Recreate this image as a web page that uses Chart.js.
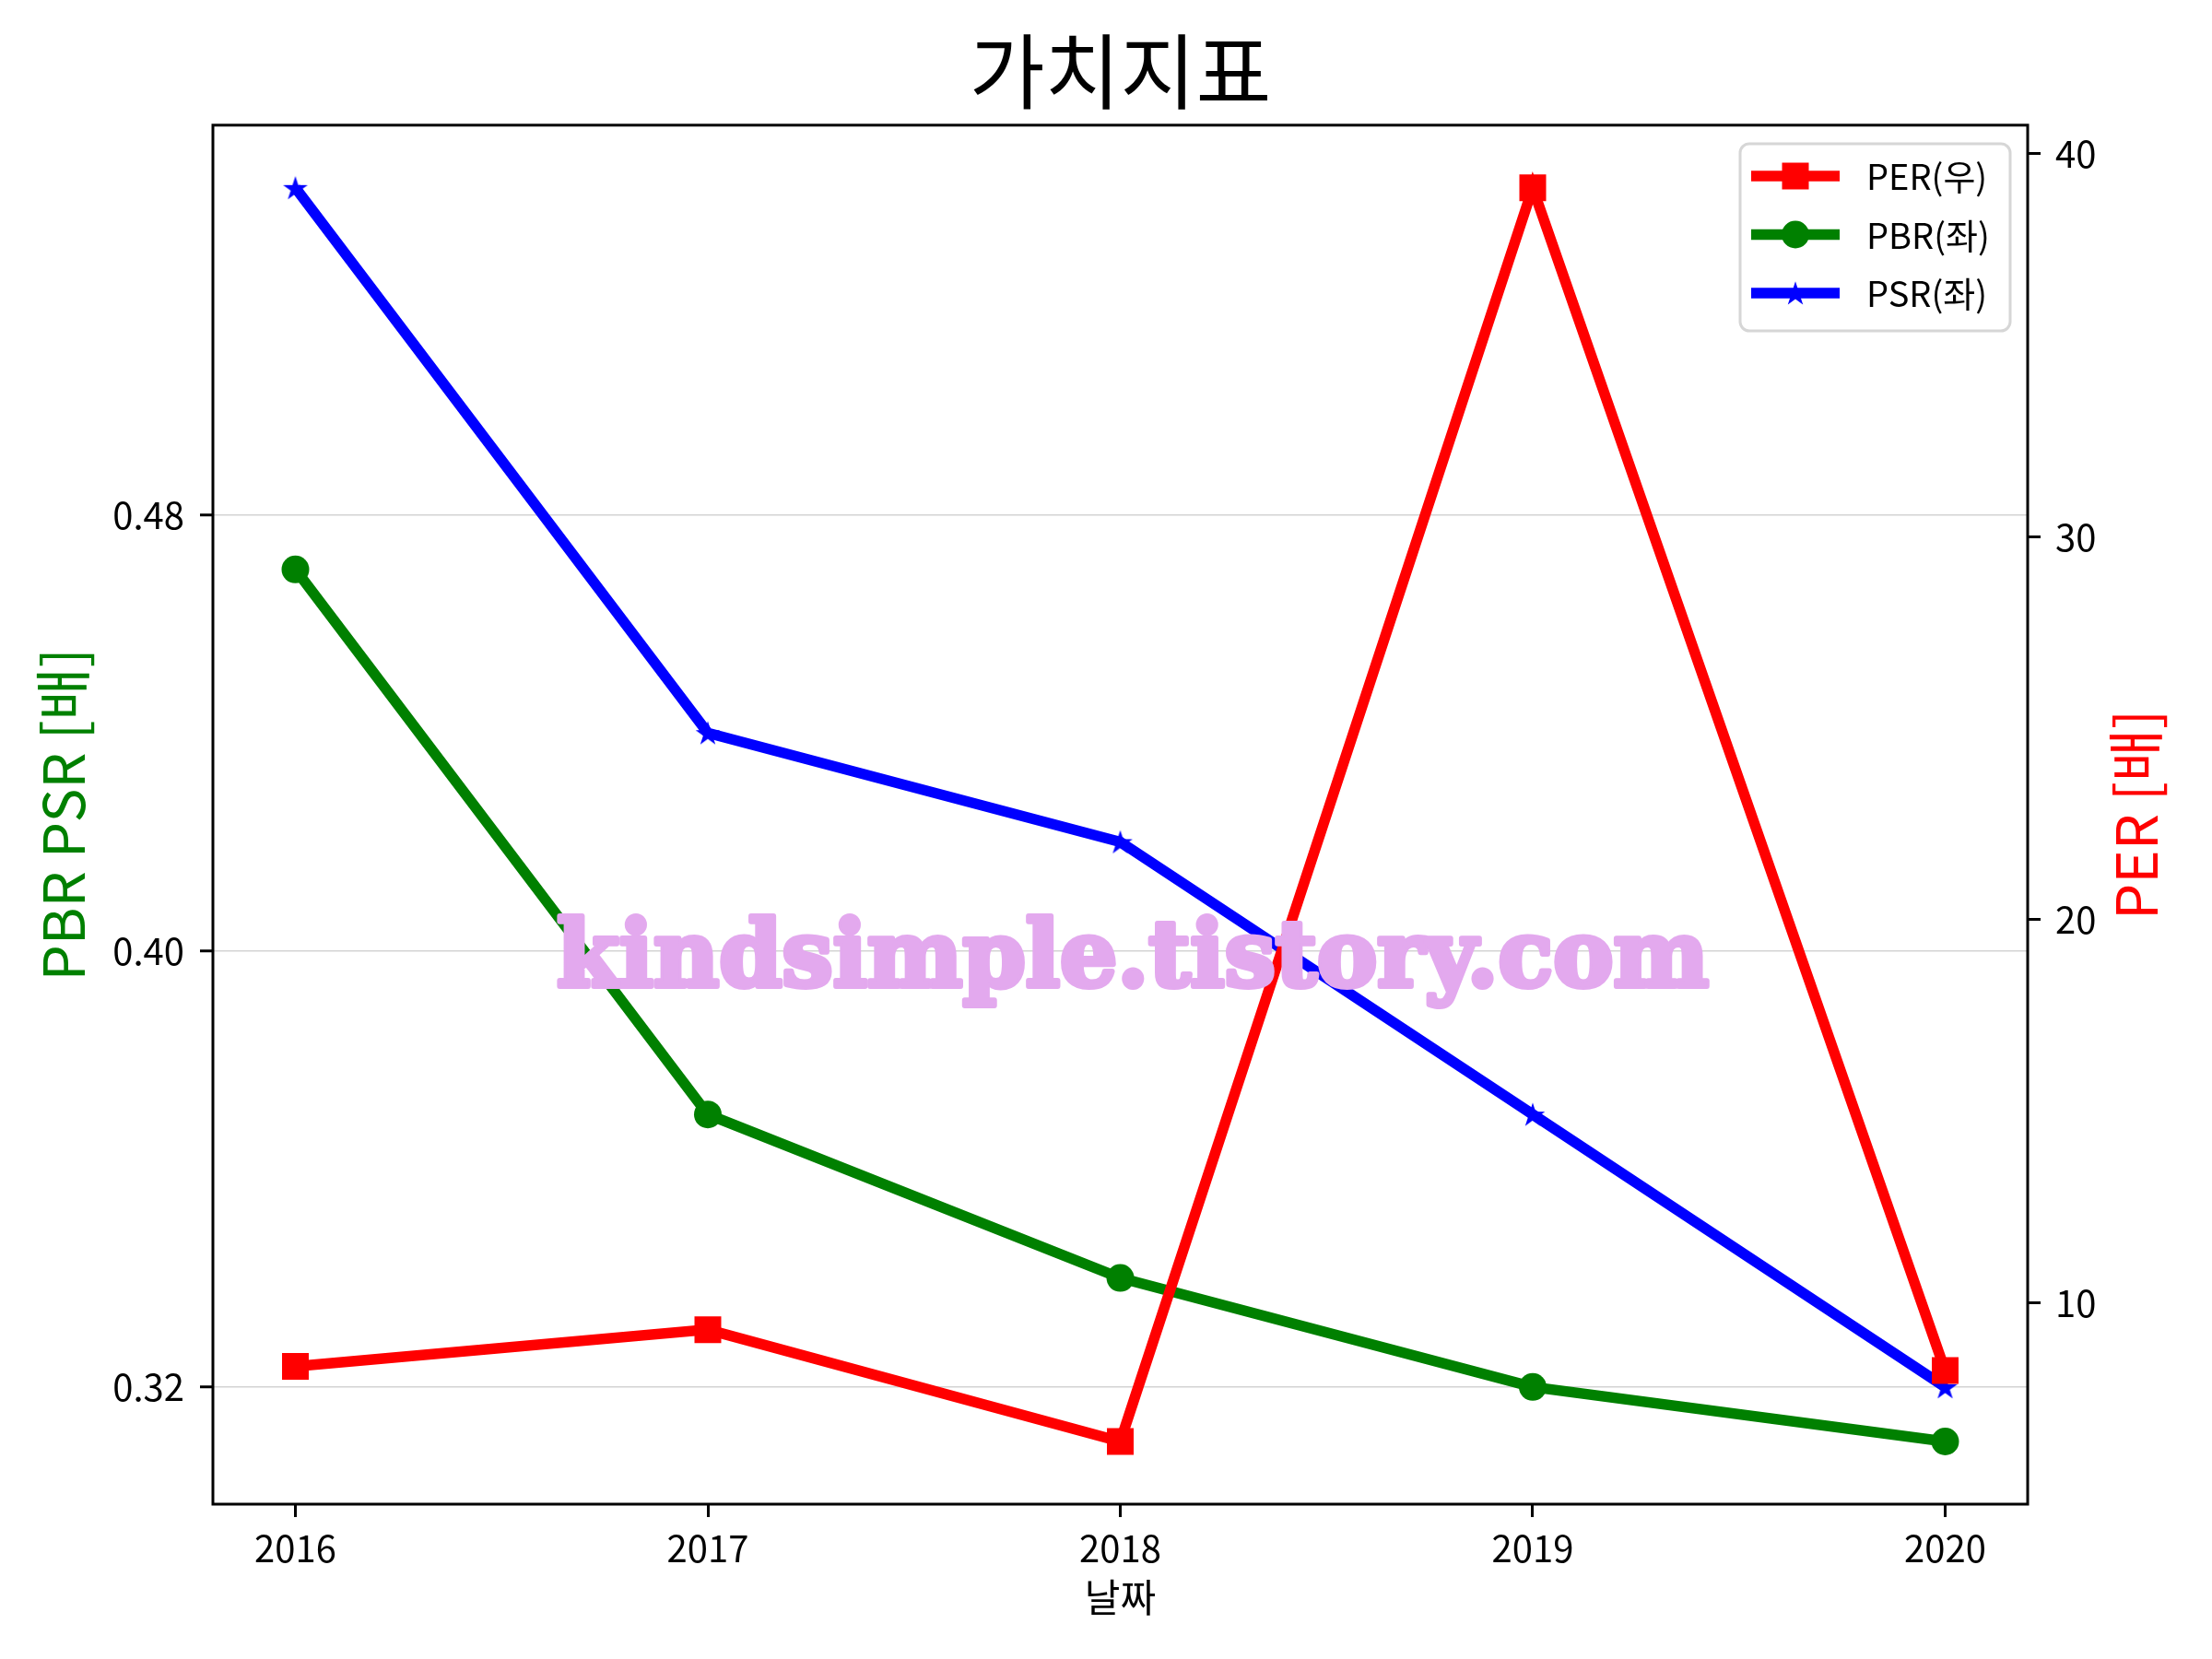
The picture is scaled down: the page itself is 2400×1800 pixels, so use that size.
<!DOCTYPE html>
<html><head><meta charset="utf-8">
<script src="https://cdn.jsdelivr.net/npm/chart.js@4/dist/chart.umd.min.js"></script>
<style>html,body{margin:0;padding:0;background:#fff;}</style>
</head><body>
<canvas id="c" width="2400" height="1800"></canvas>
<script>
// ---- data ----
const years = [2016, 2017, 2018, 2019, 2020];
const xTickLabels = ['2016', '2017', '2018', '2019', '2020'];
const perValues = [8.34, 9.30, 6.38, 39.11, 8.23];
const pbrValues = [0.47, 0.37, 0.34, 0.32, 0.31];
const psrValues = [0.54, 0.44, 0.42, 0.37, 0.32];
const leftTicks = [0.32, 0.40, 0.48];
const leftTickLabels = ['0.32', '0.40', '0.48'];
const rightTicks = [10, 20, 30, 40];
const rightTickLabels = ['10', '20', '30', '40'];
const seriesLabels = ['PER(우)', 'PBR(좌)', 'PSR(좌)'];
const titleText = '가치지표';
const xTitle = '날짜';
const leftTitle = 'PBR PSR [배]';
const rightTitle = 'PER [배]';
const watermarkText = 'kindsimple.tistory.com';

// ---- helpers ----
const FONT = '"Noto Sans CJK KR", "Noto Sans", sans-serif';
Chart.defaults.font.family = FONT;
function padRange(vals, frac) {
  const mn = Math.min(...vals), mx = Math.max(...vals), d = (mx - mn) * frac;
  return [mn - d, mx + d];
}
const xRange = padRange(years, 0.05);
const leftRange = padRange(pbrValues.concat(psrValues), 0.05);
const rightRange = padRange(perValues, 0.05);
const pts = vals => vals.map((v, i) => ({x: years[i], y: v}));

function starCanvas(R, color) {
  const s = Math.ceil(2 * R + 2);
  const c = document.createElement('canvas');
  c.width = s; c.height = s;
  const g = c.getContext('2d');
  g.fillStyle = color;
  g.beginPath();
  for (let i = 0; i < 10; i++) {
    const a = -Math.PI / 2 + i * Math.PI / 5;
    const r = (i % 2) ? R * 0.382 : R;
    const px = s / 2 + r * Math.cos(a), py = s / 2 + R * 0.09 + r * Math.sin(a);
    if (i === 0) g.moveTo(px, py); else g.lineTo(px, py);
  }
  g.closePath();
  g.fill();
  return c;
}
const blueStar = starCanvas(14, '#0000ff');

function drawMarker(ctx, style, radius, color, x, y) {
  ctx.save();
  ctx.fillStyle = color;
  if (style === 'rect') {
    const h = radius * Math.SQRT1_2;
    ctx.fillRect(x - h, y - h, 2 * h, 2 * h);
  } else if (style === 'circle') {
    ctx.beginPath(); ctx.arc(x, y, radius, 0, Math.PI * 2); ctx.fill();
  } else if (style instanceof HTMLCanvasElement) {
    ctx.drawImage(style, x - style.width / 2, y - style.height / 2);
  }
  ctx.restore();
}

const decor = {
  id: 'decor',
  afterDatasetsDraw(chart) {
    const {ctx, chartArea: a} = chart;
    ctx.save();
    ctx.strokeStyle = '#000';
    ctx.lineWidth = 3;
    ctx.strokeRect(a.left, a.top, a.right - a.left, a.bottom - a.top);
    ctx.restore();
  },
  afterDraw(chart) {
    const ctx = chart.ctx;
    // watermark
    ctx.save();
    ctx.font = 'bold 100px "DejaVu Serif", serif';
    const w = ctx.measureText(watermarkText).width;
    ctx.translate(1229, 1070);
    ctx.scale(1250 / w, 1);
    ctx.fillStyle = '#e3a9ee';
    ctx.strokeStyle = '#e3a9ee';
    ctx.lineWidth = 6;
    ctx.lineJoin = 'round';
    ctx.textAlign = 'center';
    ctx.textBaseline = 'alphabetic';
    ctx.strokeText(watermarkText, 0, 0);
    ctx.fillText(watermarkText, 0, 0);
    ctx.restore();

    // right axis title
    ctx.save();
    ctx.translate(2317, 884);
    ctx.rotate(-Math.PI / 2);
    ctx.font = '62px ' + FONT;
    ctx.fillStyle = '#ff0000';
    ctx.textAlign = 'center';
    ctx.textBaseline = 'middle';
    ctx.fillText(rightTitle, 0, 0);
    ctx.restore();

    // legend
    const bx = 1888, by = 156, bw = 293, bh = 203;
    ctx.save();
    ctx.beginPath();
    ctx.roundRect(bx, by, bw, bh, 10);
    ctx.fillStyle = 'rgba(255,255,255,0.8)';
    ctx.fill();
    ctx.strokeStyle = '#d6d6d6';
    ctx.lineWidth = 3;
    ctx.stroke();
    chart.data.datasets.forEach((ds, i) => {
      const y = 191 + i * 63.5;
      ctx.strokeStyle = ds.borderColor;
      ctx.lineWidth = ds.borderWidth;
      ctx.lineCap = 'butt';
      ctx.beginPath(); ctx.moveTo(1900, y); ctx.lineTo(1996, y); ctx.stroke();
      drawMarker(ctx, ds.pointStyle, ds.pointRadius, ds.pointBackgroundColor, 1948, y);
      ctx.fillStyle = '#000';
      ctx.font = '38px ' + FONT;
      ctx.textAlign = 'left';
      ctx.textBaseline = 'middle';
      ctx.fillText(ds.label, 2025, y + 1);
    });
    ctx.restore();
  }
};

const tickGrid = {drawOnChartArea: false, tickColor: '#000', tickWidth: 3, tickLength: 14};

new Chart(document.getElementById('c'), {
  type: 'line',
  data: {
    datasets: [
      {label: seriesLabels[0], data: pts(perValues), yAxisID: 'y1', borderColor: '#ff0000',
       borderWidth: 11.5, pointStyle: 'rect', pointRadius: 20.5, pointBackgroundColor: '#ff0000',
       pointBorderWidth: 0, tension: 0},
      {label: seriesLabels[1], data: pts(pbrValues), yAxisID: 'y', borderColor: '#008000',
       borderWidth: 11.5, pointStyle: 'circle', pointRadius: 15, pointBackgroundColor: '#008000',
       pointBorderWidth: 0, tension: 0},
      {label: seriesLabels[2], data: pts(psrValues), yAxisID: 'y', borderColor: '#0000ff',
       borderWidth: 11.5, pointStyle: blueStar, pointRadius: 14, pointBackgroundColor: '#0000ff',
       pointBorderWidth: 0, tension: 0}
    ]
  },
  options: {
    responsive: false,
    animation: false,
    devicePixelRatio: 1,
    layout: {padding: 0},
    plugins: {
      legend: {display: false},
      tooltip: {enabled: false},
      title: {display: true, fullSize: false, text: titleText, color: '#000',
              font: {size: 89, weight: 'normal', family: FONT}, padding: {top: 24, bottom: 5}}
    },
    scales: {
      x: {
        type: 'linear', position: 'bottom', min: xRange[0], max: xRange[1],
        afterBuildTicks: s => { s.ticks = years.map(v => ({value: v})); },
        ticks: {callback: (v, i) => xTickLabels[i], font: {size: 40}, color: '#000', padding: 10, maxRotation: 0},
        grid: tickGrid,
        border: {display: false},
        title: {display: true, text: xTitle, color: '#000', font: {size: 42}, padding: {top: 0, bottom: 42}},
        afterFit: s => { s.height = 168; }
      },
      y: {
        type: 'linear', position: 'left', min: leftRange[0], max: leftRange[1],
        afterBuildTicks: s => { s.ticks = leftTicks.map(v => ({value: v})); },
        ticks: {callback: (v, i) => leftTickLabels[i], font: {size: 40}, color: '#000', padding: 17},
        grid: {drawOnChartArea: true, color: '#d3d3d3', lineWidth: 1.5, tickColor: '#000', tickWidth: 3, tickLength: 14},
        border: {display: false},
        title: {display: true, text: leftTitle, color: '#008000', font: {size: 62}, padding: {top: 31, bottom: 0}},
        afterFit: s => { s.width = 231; }
      },
      y1: {
        type: 'linear', position: 'right', min: rightRange[0], max: rightRange[1],
        afterBuildTicks: s => { s.ticks = rightTicks.map(v => ({value: v})); },
        ticks: {callback: (v, i) => rightTickLabels[i], font: {size: 40}, color: '#000', padding: 16},
        grid: tickGrid,
        border: {display: false},
        afterFit: s => { s.width = 200; }
      }
    }
  },
  plugins: [decor]
});
</script>
</body></html>
